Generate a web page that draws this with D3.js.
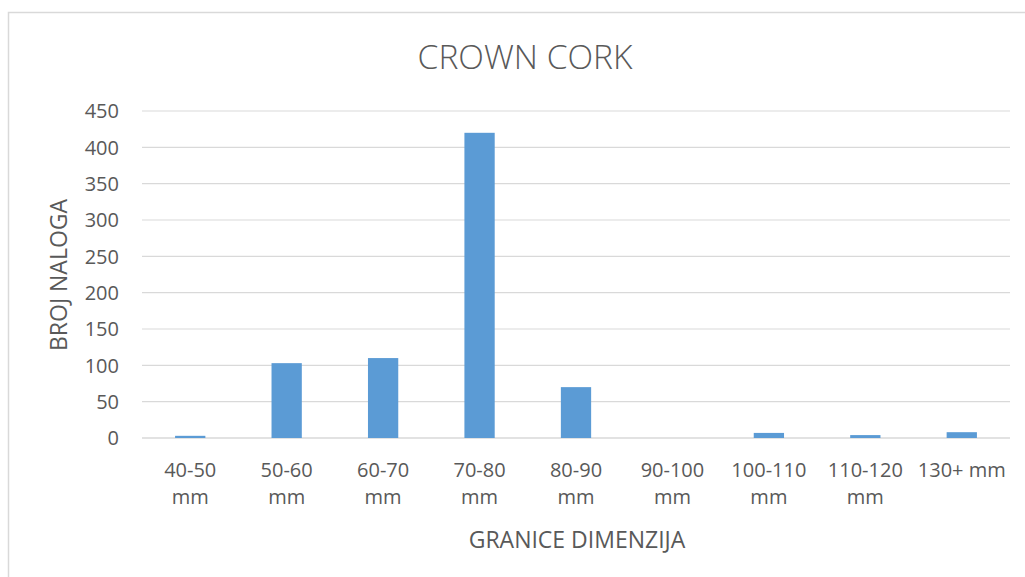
<!DOCTYPE html>
<html><head><meta charset="utf-8">
<script src="https://cdn.jsdelivr.net/npm/d3@7"></script>
<style>
body{margin:0;background:#fff;}
text{font-family:"Open Sans","Noto Sans",sans-serif;fill:#595959;}
</style></head>
<body><svg id="c" width="1025" height="577"></svg>
<script>
const categories = [["40-50","mm"],["50-60","mm"],["60-70","mm"],["70-80","mm"],["80-90","mm"],["90-100","mm"],["100-110","mm"],["110-120","mm"],["130+ mm"]];
const values = [3, 103, 110, 420, 70, 0, 7, 4, 8];
const yTicks = [0, 50, 100, 150, 200, 250, 300, 350, 400, 450];
const title = "CROWN CORK";
const xTitle = "GRANICE DIMENZIJA";
const yTitle = "BROJ NALOGA";

(function(){
const svg = d3.select("#c");
svg.append("rect").attr("x",8.5).attr("y",12.5).attr("width",1030).attr("height",580)
  .attr("fill","#fff").attr("stroke","#d9d9d9").attr("stroke-width",1.5);

const pL=142, pR=1010, pT=111, pB=438;
const idx = categories.map((d,i)=>i);
const x = d3.scaleBand().domain(idx).range([pL,pR]).paddingInner(0.686).paddingOuter(0.343);
const xb = d3.scaleBand().domain(idx).range([pL,pR]);
const y = d3.scaleLinear().domain([0,450]).range([pB,pT]);

svg.append("g").selectAll("line").data(yTicks).join("line")
  .attr("x1",pL).attr("x2",pR).attr("y1",d=>y(d)).attr("y2",d=>y(d))
  .attr("stroke","#d9d9d9").attr("stroke-width",d=>d===0?1.5:1.2);

svg.append("g").selectAll("text").data(yTicks).join("text")
  .attr("x",119).attr("y",d=>y(d)).attr("dy","0.36em").attr("text-anchor","end")
  .attr("font-size",20).text(d=>d);

svg.append("g").selectAll("rect").data(values).join("rect")
  .attr("x",(d,i)=>x(i)).attr("width",x.bandwidth())
  .attr("y",d=>y(d)).attr("height",d=>pB-y(d)).attr("fill","#5b9bd5");

const lab = svg.append("g").selectAll("text").data(categories).join("text")
  .attr("text-anchor","middle").attr("font-size",20)
  .attr("x",(d,i)=>xb(i)+xb.bandwidth()/2).attr("y",477);
lab.selectAll("tspan").data(d=>d).join("tspan")
  .attr("x",function(){return this.parentNode.getAttribute("x");})
  .attr("dy",(d,i)=>i===0?0:27).text(d=>d);

svg.append("text").attr("x",525).attr("y",69).attr("text-anchor","middle")
  .attr("font-size",33.5).attr("font-weight",300).text(title);
svg.append("text").attr("x",577).attr("y",548).attr("text-anchor","middle")
  .attr("font-size",23).text(xTitle);
svg.append("text").attr("transform","translate(67,275) rotate(-90)").attr("text-anchor","middle")
  .attr("font-size",23).text(yTitle);
})();
</script></body></html>
